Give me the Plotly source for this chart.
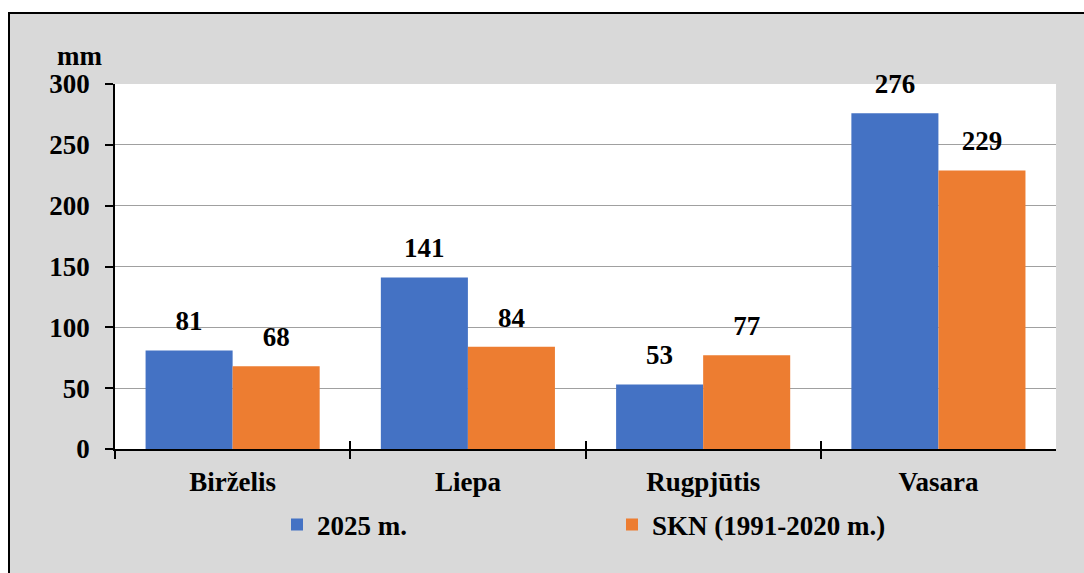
import plotly.graph_objects as go

# Precipitation totals, mm
categories = ["Birželis", "Liepa", "Rugpjūtis", "Vasara"]
series_names = ["2025 m.", "SKN (1991-2020 m.)"]
values_2025 = [81, 141, 53, 276]
values_norm = [68, 84, 77, 229]
y_ticks = [0, 50, 100, 150, 200, 250, 300]

colors = ["#4472C4", "#ED7D31"]
FONT = "Times New Roman, Liberation Serif, serif"

fig = go.Figure()

for name, vals, col, grp in zip(series_names, [values_2025, values_norm], colors, ["a", "b"]):
    fig.add_trace(go.Bar(
        x=categories, y=vals, name=name, marker=dict(color=col, line=dict(width=0)),
        offsetgroup=grp, hoverinfo="skip",
    ))

# value labels, grouped the same way as the bars
for vals, grp in zip([values_2025, values_norm], ["a", "b"]):
    fig.add_trace(go.Scatter(
        x=categories, y=vals, mode="markers+text", text=[str(v) for v in vals],
        textposition="top center", offsetgroup=grp,
        marker=dict(size=20, opacity=0), textfont=dict(size=27, color="black", family=FONT, weight="bold"),
        showlegend=False, cliponaxis=False, hoverinfo="skip",
    ))

# helper axis carrying the inward half of the category boundary ticks
fig.add_trace(go.Scatter(x=categories, y=[None] * len(categories), xaxis="x2",
                         showlegend=False, hoverinfo="skip"))

fig.update_layout(
    width=1084, height=573,
    margin=dict(l=9, r=0, t=13, b=0),
    paper_bgcolor="white", plot_bgcolor="white",
    font=dict(family=FONT, size=27, color="black", weight="bold"),
    barmode="group", bargap=0.26, bargroupgap=0,
    scattermode="group", scattergap=0.26,
    xaxis=dict(
        domain=[0.0986, 0.974], type="category", categoryarray=categories,
        showline=True, linecolor="black", linewidth=1.5,
        ticks="outside", ticklen=8, tickwidth=1.5, tickcolor="black",
        tickson="boundaries", showgrid=False, automargin=False,
        tickfont=dict(size=27), ticklabelstandoff=8,
    ),
    xaxis2=dict(
        overlaying="x", anchor="y", matches="x", type="category", categoryarray=categories,
        ticks="inside", ticklen=8, tickwidth=1.5, tickcolor="black",
        tickson="boundaries", showticklabels=False, showgrid=False, showline=False,
        automargin=False,
    ),
    yaxis=dict(
        domain=[0.2214, 0.8732], range=[0, 300], tickvals=y_ticks,
        showline=True, linecolor="black", linewidth=1.5,
        ticks="outside", ticklen=8, tickwidth=1.5, tickcolor="black",
        showgrid=True, gridcolor="#A0A0A0", gridwidth=1, zeroline=False,
        automargin=False, tickfont=dict(size=27), ticklabelstandoff=10,
    ),
    legend=dict(
        orientation="h", x=(277 - 9) / 1075, xanchor="left", y=(573 - 525) / 560, yanchor="middle",
        entrywidth=290, entrywidthmode="pixels", bgcolor="rgba(0,0,0,0)",
        font=dict(size=27), itemclick=False, traceorder="normal",
    ),
    shapes=[
        # gray chart area with dark frame
        dict(type="rect", xref="paper", yref="paper", x0=0, x1=1.01, y0=-0.01, y1=1,
             fillcolor="#D9D9D9", line=dict(color="black", width=2), layer="below"),
        # white plot area
        dict(type="rect", xref="x domain", yref="y domain", x0=0, x1=1, y0=0, y1=1,
             fillcolor="white", line=dict(width=0), layer="below"),
    ],
    annotations=[
        dict(text="mm", xref="paper", yref="paper", x=(79 - 9) / 1075, y=(573 - 56) / 560,
             showarrow=False, xanchor="center", yanchor="middle", font=dict(size=27)),
    ],
)

fig.write_html("out.html")
